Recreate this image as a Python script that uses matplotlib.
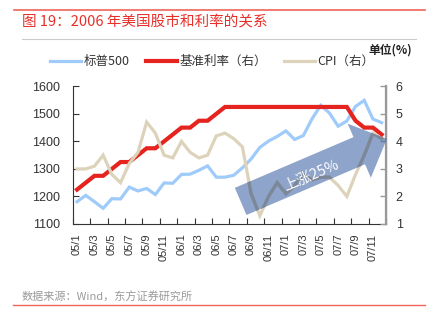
import numpy as np
import matplotlib as mpl
mpl.use('Agg')
import matplotlib.pyplot as plt
from matplotlib.patches import Polygon
from matplotlib.lines import Line2D

cjk = ['Noto Sans CJK SC', 'DejaVu Sans']
num = ['Liberation Sans', 'Noto Sans CJK SC']

# monthly data, 2005/1 - 2007/12
months = ['%02d/%d' % (y, m) for y in (5, 6, 7) for m in range(1, 13)]
spx = [1181, 1204, 1181, 1157, 1192, 1191, 1234, 1220, 1229, 1207, 1249, 1248,
       1280, 1281, 1295, 1311, 1270, 1270, 1277, 1304, 1336, 1378, 1401, 1418,
       1438, 1407, 1421, 1482, 1531, 1503, 1455, 1474, 1527, 1549, 1481, 1468]
rate = [2.25, 2.5, 2.75, 2.75, 3.0, 3.25, 3.25, 3.5, 3.75, 3.75, 4.0, 4.25,
        4.5, 4.5, 4.75, 4.75, 5.0, 5.25, 5.25, 5.25, 5.25, 5.25, 5.25, 5.25,
        5.25, 5.25, 5.25, 5.25, 5.25, 5.25, 5.25, 5.25, 4.75, 4.5, 4.5, 4.25]
cpi = [3.0, 3.0, 3.1, 3.5, 2.8, 2.5, 3.2, 3.6, 4.7, 4.3, 3.5, 3.4,
       4.0, 3.6, 3.4, 3.5, 4.2, 4.3, 4.1, 3.8, 2.1, 1.3, 2.0, 2.5,
       2.1, 2.4, 2.8, 2.6, 2.7, 2.7, 2.4, 2.0, 2.8, 3.5, 4.3, 4.1]
labels = months[::2]

# arrow from (month index, right-axis value) to tip
arrow_tail = (18.8, 1.82)
arrow_tip = (35.6, 4.09)

W, H = 440, 327
fig = plt.figure(figsize=(W / 100, H / 100), dpi=100)

# header / footer rules and texts
fig.add_artist(Line2D([14 / W, 425 / W], [1 - 10 / H] * 2, color='#f0635a', lw=1.2))
fig.add_artist(Line2D([22 / W, 416 / W], [1 - 38.5 / H] * 2, color='#cccccc', lw=0.8))
fig.add_artist(Line2D([13 / W, 425 / W], [1 - 305 / H] * 2, color='#f0635a', lw=1.0))
fig.text(22 / W, 1 - 21.5 / H, '图 19：2006 年美国股市和利率的关系', family=cjk,
         fontsize=10.5, color='#e8302a', va='center', ha='left')
fig.text(22 / W, 1 - 297 / H, '数据来源：Wind，东方证券研究所', family=cjk,
         fontsize=8, color='#9a9a9a', va='center', ha='left')
fig.text(412 / W, 1 - 50 / H, '单位(%)', family=cjk, fontsize=8.5,
         fontweight='bold', color='#222222', va='center', ha='right')

x = np.arange(len(months))
ax = fig.add_axes([72.7 / W, 1 - 224 / H, (386 - 72.7) / W, (224 - 86.3) / H])
ax2 = ax.twinx()

l1, = ax.plot(x, spx, color='#9fcbfb', lw=2.3, solid_joinstyle='miter')
l2, = ax2.plot(x, rate, color='#e52420', lw=3.0, solid_joinstyle='miter')
l3, = ax2.plot(x, cpi, color='#ddd3bb', lw=2.3, solid_joinstyle='miter')

ax.set_xlim(-0.5, 35.5)
ax.set_ylim(1100, 1600)
ax.set_yticks(np.arange(1100, 1601, 100))
ax2.set_ylim(1, 6)
ax2.set_yticks(np.arange(1, 7))

ax.set_xticks(np.arange(-0.5, 35.6, 2))
ax.set_xticklabels([])
ax.set_xticks(x[::2], minor=True)
ax.set_xticklabels(labels, minor=True, rotation=90, fontsize=8, family=num,
                   color='#333333', va='top')
ax.tick_params(axis='x', which='major', direction='in', length=4, color='#333333')
ax.tick_params(axis='x', which='minor', length=0, pad=7)
ax.tick_params(axis='y', direction='in', length=4, pad=9, color='#333333',
               labelsize=9, labelcolor='#333333')
ax2.tick_params(axis='y', direction='in', length=4, pad=7, color='#999999',
                labelsize=9, labelcolor='#333333', width=1)
for t in ax.get_yticklabels() + ax2.get_yticklabels():
    t.set_family(num)

for a in (ax, ax2):
    a.spines['top'].set_visible(False)
ax.spines['left'].set_color('#333333')
ax.spines['bottom'].set_color('#333333')
ax2.spines['left'].set_visible(False)
ax2.spines['bottom'].set_visible(False)
ax2.spines['right'].set_color('#999999')
ax2.spines['right'].set_linewidth(1.6)

# block arrow, built in pixels then mapped back to data
p0 = ax2.transData.transform(arrow_tail)
p1 = ax2.transData.transform(arrow_tip)
d = p1 - p0
u = d / np.hypot(*d)
n = np.array([-u[1], u[0]])
shaft, head_w, head_l = 14.75, 29.4, 30
b = p1 - head_l * u
pts = [p0 + shaft * n, b + shaft * n, b + head_w * n, p1,
       b - head_w * n, b - shaft * n, p0 - shaft * n]
pts = ax2.transData.inverted().transform(np.array(pts))
arrow = Polygon(pts, closed=True, facecolor='#4367a8', edgecolor='none',
                alpha=0.6, zorder=5, clip_on=False)
ax2.add_patch(arrow)
# CPI line seen through the arrow (darker)
l3b, = ax2.plot(x, cpi, color='#7c8798', lw=2.3, zorder=6,
                solid_joinstyle='miter')
l3b.set_clip_path(arrow)

mid = p0 + 0.47 * d - 4 * n
ang = np.degrees(np.arctan2(d[1], d[0]))
fig.text(mid[0] / W, mid[1] / H, '上涨25%', family=cjk, fontsize=10.5,
         color='white', rotation=ang, rotation_mode='anchor',
         ha='center', va='center', zorder=10)

fig.legend([l1, l2, l3], ['标普500', '基准利率（右）', 'CPI（右）'],
           loc='center left', bbox_to_anchor=(50 / W, 1 - 61.5 / H),
           ncol=3, frameon=False, prop={'family': cjk, 'size': 9},
           handlelength=2.5, handletextpad=0.2, columnspacing=1.3,
           borderpad=0, borderaxespad=0, labelcolor='#333333')

fig.savefig('out.png', dpi=100)
